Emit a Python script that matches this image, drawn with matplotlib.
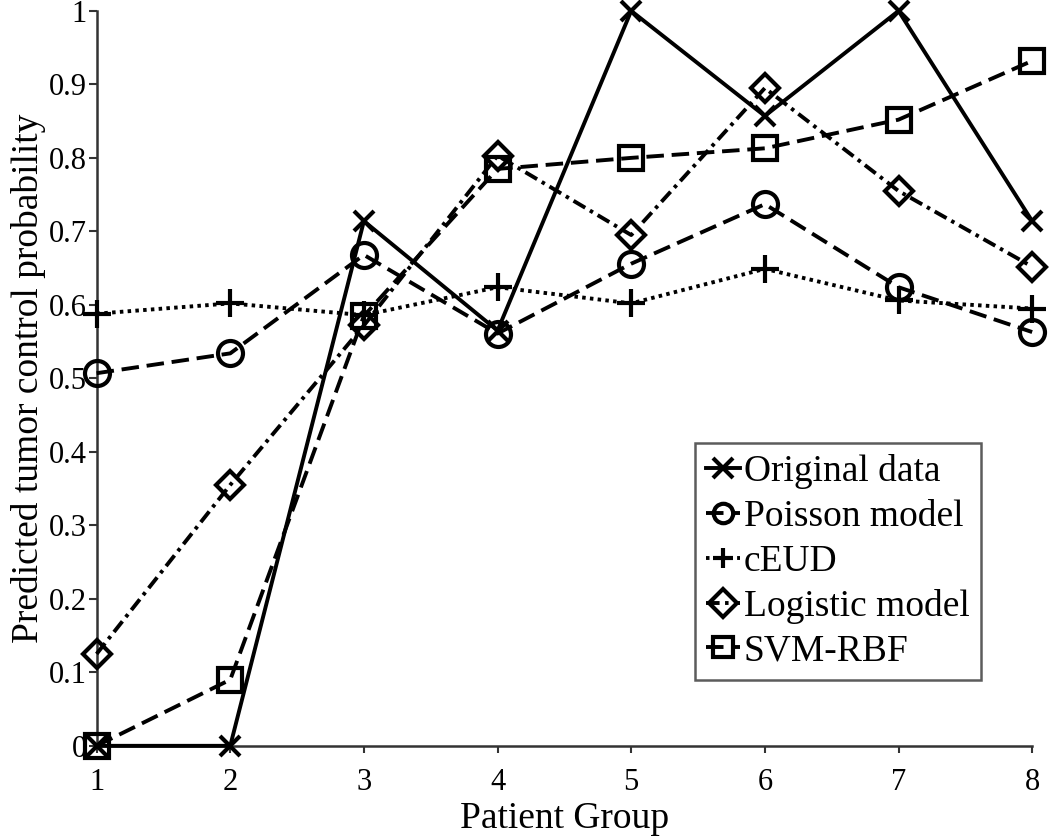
import numpy as np
import matplotlib
matplotlib.use("Agg")
from matplotlib import rcParams
rcParams["font.family"] = "Liberation Serif"
import matplotlib.pyplot as plt

groups = [1, 2, 3, 4, 5, 6, 7, 8]
original = [0.0, 0.0, 0.714, 0.565, 1.0, 0.857, 1.0, 0.714]
poisson = [0.507, 0.534, 0.668, 0.561, 0.656, 0.737, 0.624, 0.563]
ceud = [0.588, 0.602, 0.586, 0.624, 0.602, 0.649, 0.606, 0.595]
logistic = [0.125, 0.355, 0.572, 0.803, 0.695, 0.895, 0.755, 0.652]
svm = [0.0, 0.09, 0.585, 0.785, 0.800, 0.813, 0.852, 0.932]

fig = plt.figure(figsize=(10.5, 8.38), dpi=100)
ax = fig.add_axes([0.092, 0.11, 0.891, 0.877])

common = dict(color="black", lw=2.8, mfc="none", mec="black", mew=3.0, clip_on=False)
ax.plot(groups, original, "-", marker="x", ms=15, label="Original data", zorder=5, **common)
ax.plot(groups, poisson, marker="o", ms=18, dashes=(4.5, 2), label="Poisson model", zorder=4, **common)
ax.plot(groups, ceud, marker="+", ms=20, dashes=(0.9, 1.1), label="cEUD", zorder=3, **common)
ax.plot(groups, logistic, marker="D", ms=14, dashes=(3.5, 1.4, 0.9, 1.4), label="Logistic model", zorder=3, **common)
ax.plot(groups, svm, marker="s", ms=17, dashes=(4.5, 2), label="SVM-RBF", zorder=4, **common)

ax.set_xlim(1, 8)
ax.set_ylim(0, 1)
ax.set_xticks(groups)
ax.set_yticks(np.arange(0, 1.01, 0.1))
ax.set_yticklabels(["0", "0.1", "0.2", "0.3", "0.4", "0.5", "0.6", "0.7", "0.8", "0.9", "1"])
ax.tick_params(axis="both", labelsize=22, direction="out", color="#333333", width=1.5)
ax.tick_params(axis="y", length=6, pad=1)
ax.tick_params(axis="x", length=5, pad=11)

ax.spines["right"].set_visible(False)
ax.spines["top"].set_visible(False)
for s in ["left", "bottom"]:
    ax.spines[s].set_color("#333333")
    ax.spines[s].set_linewidth(1.8)

ax.set_xlabel("Patient Group", fontsize=27, labelpad=3)
ax.set_ylabel("Predicted tumor control probability", fontsize=27, labelpad=2)

leg = ax.legend(loc="lower right", bbox_to_anchor=(0.945, 0.09), fontsize=27, frameon=True,
                fancybox=False, edgecolor="#333333", handlelength=0.9, handletextpad=0.1,
                borderpad=0.3, labelspacing=0.27, borderaxespad=0)
leg.get_frame().set_linewidth(1.8)
for h in leg.legend_handles:
    h.set_markersize(14)

fig.savefig("out.png", dpi=100)
